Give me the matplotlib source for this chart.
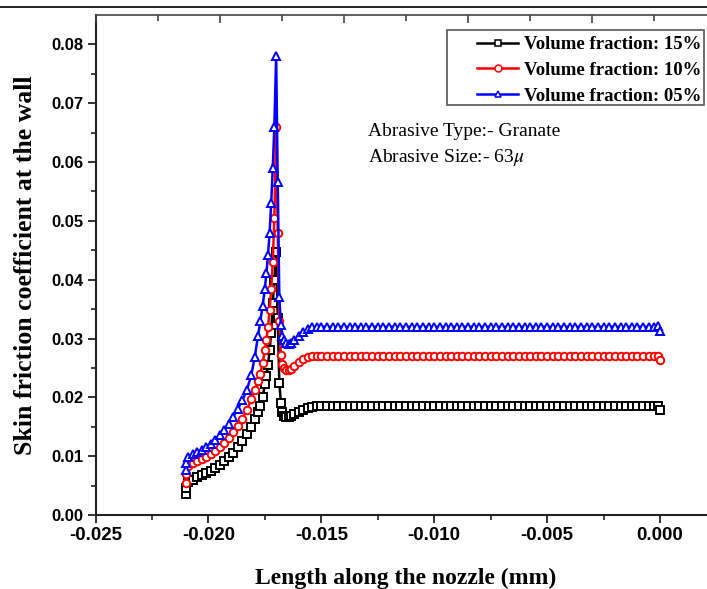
import matplotlib
matplotlib.use("Agg")
import matplotlib.pyplot as plt
from matplotlib.lines import Line2D
from matplotlib.patches import Rectangle

plt.rcParams["mathtext.fontset"] = "stix"

# axial position along the nozzle (mm), shared mesh for all three runs
X_MM = [
    -0.02100, -0.02098, -0.02090, -0.02070, -0.02050, -0.02030, -0.02010,
    -0.01990, -0.01970, -0.01950, -0.01930, -0.01910, -0.01890, -0.01870,
    -0.01850, -0.01830, -0.01810, -0.01795, -0.01780, -0.01770, -0.01760,
    -0.01750, -0.01743, -0.01736, -0.01729, -0.01722, -0.01715, -0.01708,
    -0.01700, -0.01693, -0.01686, -0.01679, -0.01672, -0.01665, -0.01655,
    -0.01645, -0.01635, -0.01620, -0.01600, -0.01580, -0.01560, -0.01540,
    -0.01520, -0.01500,
    -0.01475, -0.01450, -0.01425, -0.01400, -0.01375, -0.01350, -0.01325, -0.01300, -0.01275, -0.01250,
    -0.01225, -0.01200, -0.01175, -0.01150, -0.01125, -0.01100, -0.01075, -0.01050, -0.01025, -0.01000,
    -0.00975, -0.00950, -0.00925, -0.00900, -0.00875, -0.00850, -0.00825, -0.00800, -0.00775, -0.00750,
    -0.00725, -0.00700, -0.00675, -0.00650, -0.00625, -0.00600, -0.00575, -0.00550, -0.00525, -0.00500,
    -0.00475, -0.00450, -0.00425, -0.00400, -0.00375, -0.00350, -0.00325, -0.00300, -0.00275, -0.00250,
    -0.00225, -0.00200, -0.00175, -0.00150, -0.00125, -0.00100, -0.00075, -0.00050, -0.00025,
    -0.00010, 0.00000,
]

CF_15 = [
    0.0035, 0.0046, 0.0056, 0.0060, 0.0065, 0.0068, 0.0071,
    0.0075, 0.0080, 0.0085, 0.0091, 0.0098, 0.0106, 0.0115,
    0.0126, 0.0138, 0.0150, 0.0163, 0.0175, 0.0186, 0.0200,
    0.0222, 0.0237, 0.0255, 0.0280, 0.0310, 0.0360, 0.0400,
    0.0447, 0.0335, 0.0225, 0.0190, 0.0175, 0.0169, 0.0167,
    0.0167, 0.0168, 0.0171, 0.0175, 0.0179, 0.0182, 0.0184,
    0.0185, 0.0185,
    0.0185, 0.0185, 0.0185, 0.0185, 0.0185, 0.0185, 0.0185, 0.0185, 0.0185, 0.0185,
    0.0185, 0.0185, 0.0185, 0.0185, 0.0185, 0.0185, 0.0185, 0.0185, 0.0185, 0.0185,
    0.0185, 0.0185, 0.0185, 0.0185, 0.0185, 0.0185, 0.0185, 0.0185, 0.0185, 0.0185,
    0.0185, 0.0185, 0.0185, 0.0185, 0.0185, 0.0185, 0.0185, 0.0185, 0.0185, 0.0185,
    0.0185, 0.0185, 0.0185, 0.0185, 0.0185, 0.0185, 0.0185, 0.0185, 0.0185, 0.0185,
    0.0185, 0.0185, 0.0185, 0.0185, 0.0185, 0.0185, 0.0185, 0.0185, 0.0185,
    0.0185, 0.0179,
]

CF_10 = [
    0.0054, 0.0070, 0.0084, 0.0089, 0.0092, 0.0095, 0.0098,
    0.0103, 0.0109, 0.0116, 0.0122, 0.0131, 0.0141, 0.0152,
    0.0164, 0.0178, 0.0197, 0.0212, 0.0228, 0.0240, 0.0258,
    0.0280, 0.0298, 0.0320, 0.0348, 0.0385, 0.0430, 0.0505,
    0.0660, 0.0480, 0.0330, 0.0272, 0.0256, 0.0250, 0.0247,
    0.0247, 0.0249, 0.0254, 0.0260, 0.0265, 0.0268, 0.0270,
    0.0270, 0.0270,
    0.0270, 0.0270, 0.0270, 0.0270, 0.0270, 0.0270, 0.0270, 0.0270, 0.0270, 0.0270,
    0.0270, 0.0270, 0.0270, 0.0270, 0.0270, 0.0270, 0.0270, 0.0270, 0.0270, 0.0270,
    0.0270, 0.0270, 0.0270, 0.0270, 0.0270, 0.0270, 0.0270, 0.0270, 0.0270, 0.0270,
    0.0270, 0.0270, 0.0270, 0.0270, 0.0270, 0.0270, 0.0270, 0.0270, 0.0270, 0.0270,
    0.0270, 0.0270, 0.0270, 0.0270, 0.0270, 0.0270, 0.0270, 0.0270, 0.0270, 0.0270,
    0.0270, 0.0270, 0.0270, 0.0270, 0.0270, 0.0270, 0.0270, 0.0270, 0.0270,
    0.0270, 0.0264,
]

CF_05 = [
    0.0077, 0.0089, 0.0099, 0.0103, 0.0107, 0.0111, 0.0116,
    0.0121, 0.0128, 0.0136, 0.0145, 0.0155, 0.0167, 0.0180,
    0.0195, 0.0212, 0.0238, 0.0268, 0.0305, 0.0330, 0.0355,
    0.0385, 0.0412, 0.0442, 0.0480, 0.0530, 0.0590, 0.0660,
    0.0780, 0.0566, 0.0370, 0.0323, 0.0305, 0.0297, 0.0292,
    0.0291, 0.0292, 0.0297, 0.0304, 0.0311, 0.0316, 0.0319,
    0.0320, 0.0320,
    0.0320, 0.0320, 0.0320, 0.0320, 0.0320, 0.0320, 0.0320, 0.0320, 0.0320, 0.0320,
    0.0320, 0.0320, 0.0320, 0.0320, 0.0320, 0.0320, 0.0320, 0.0320, 0.0320, 0.0320,
    0.0320, 0.0320, 0.0320, 0.0320, 0.0320, 0.0320, 0.0320, 0.0320, 0.0320, 0.0320,
    0.0320, 0.0320, 0.0320, 0.0320, 0.0320, 0.0320, 0.0320, 0.0320, 0.0320, 0.0320,
    0.0320, 0.0320, 0.0320, 0.0320, 0.0320, 0.0320, 0.0320, 0.0320, 0.0320, 0.0320,
    0.0320, 0.0320, 0.0320, 0.0320, 0.0320, 0.0320, 0.0320, 0.0320, 0.0320,
    0.0321, 0.0313,
]

# (label, values, color, marker)
SERIES = [
    ("Volume fraction: 15%", CF_15, "black", "s"),
    ("Volume fraction: 10%", CF_10, "red", "o"),
    ("Volume fraction: 05%", CF_05, "blue", "^"),
]

X_TICKS = [-0.025, -0.020, -0.015, -0.010, -0.005, 0.000]
Y_TICKS = [0.00, 0.01, 0.02, 0.03, 0.04, 0.05, 0.06, 0.07, 0.08]

W, H = 707, 589
fig = plt.figure(figsize=(W / 100, H / 100), dpi=100)
# plot area runs a little past the right edge of the canvas
ax = fig.add_axes([95.5 / W, 74 / H, 621 / W, 500 / H])

for label, vals, color, marker in SERIES:
    ax.plot(X_MM, vals, "-", color=color, lw=1.8, marker=marker, ms=5.4,
            mfc="white", mec=color, mew=1.4, label=label, clip_on=False)

ax.set_xlim(-0.025, 0.0025)
ax.set_ylim(0, 0.085)
ax.set_xticks(X_TICKS)
ax.set_xticklabels([f"{v:.3f}" for v in X_TICKS])
ax.set_yticks(Y_TICKS)
ax.set_yticklabels([f"{v:.2f}" for v in Y_TICKS])
ax.set_xticks([-0.0225, -0.0175, -0.0125, -0.0075, -0.0025], minor=True)
ax.set_yticks([0.005, 0.015, 0.025, 0.035, 0.045, 0.055, 0.065, 0.075], minor=True)

for t in ax.get_xticklabels():
    t.set_fontfamily("Liberation Sans")
    t.set_fontweight("bold")
    t.set_fontsize(13.5)
for t in ax.get_yticklabels():
    t.set_fontfamily("Liberation Sans")
    t.set_fontweight("bold")
    t.set_fontsize(12)

ax.tick_params(which="major", direction="out", length=6, width=1.3, color="#222222")
ax.tick_params(which="minor", direction="out", length=3.5, width=1.2, color="#222222")
ax.tick_params(axis="x", which="major", pad=3)
ax.tick_params(axis="y", which="major", pad=3)
ax.tick_params(top=False, right=False, which="both")

for side in ("left", "bottom"):
    ax.spines[side].set_linewidth(1.5)
    ax.spines[side].set_color("#222222")
ax.spines["top"].set_linewidth(1.2)
ax.spines["top"].set_color("#444444")
ax.spines["right"].set_visible(False)

# top axis carries its own inward ticks
top = ax.twiny()
top.set_xlim(0, 10)
top.set_xticks([0, 2, 4, 6, 8, 10])
top.set_xticks([1, 3, 5, 7, 9], minor=True)
top.tick_params(which="major", direction="in", length=6, width=1.2, color="#444444",
                labeltop=False, top=True)
top.tick_params(which="minor", direction="in", length=4, width=1.2, color="#444444",
                top=True)
for s in top.spines.values():
    s.set_visible(False)

ax.set_xlabel("Length along the nozzle (mm)", family="Liberation Serif",
              weight="bold", size=17)
ax.set_ylabel("Skin friction coefficient at the wall", family="Liberation Serif",
              weight="bold", size=18.5)
ax.xaxis.set_label_coords(0.5, -0.106)
ax.yaxis.set_label_coords(-0.095, 0.5)

ax.text(368 / W, 1 - 131 / H, "Abrasive Type:- Granate", transform=fig.transFigure,
        family="Liberation Serif", fontsize=14, va="center", ha="left")
ax.text(368 / W, 1 - 157 / H, r"Abrasive Size:- 63$\mu$", transform=fig.transFigure,
        family="Liberation Serif", fontsize=14, va="center", ha="left")

leg = ax.legend(loc="upper left", bbox_to_anchor=(477 / W, 1 - 36 / H),
                bbox_transform=fig.transFigure, frameon=False, borderpad=0,
                borderaxespad=0, handlelength=2.2, handletextpad=0.32,
                labelspacing=0.46, numpoints=1,
                prop={"family": "Liberation Serif", "weight": "bold", "size": 13.5})
for h in leg.legend_handles:
    h.set_markersize(5.0)
    h.set_markeredgewidth(1.1)
fig.add_artist(Rectangle((447 / W, 1 - 105 / H), 257 / W, 75 / H,
                         transform=fig.transFigure, fill=False,
                         edgecolor="#555555", lw=1.2))

# rule across the top of the page
fig.add_artist(Line2D([0, 1], [1 - 7 / H, 1 - 7 / H], transform=fig.transFigure,
                      color="black", lw=1.2))

fig.savefig("out.png", dpi=100)
